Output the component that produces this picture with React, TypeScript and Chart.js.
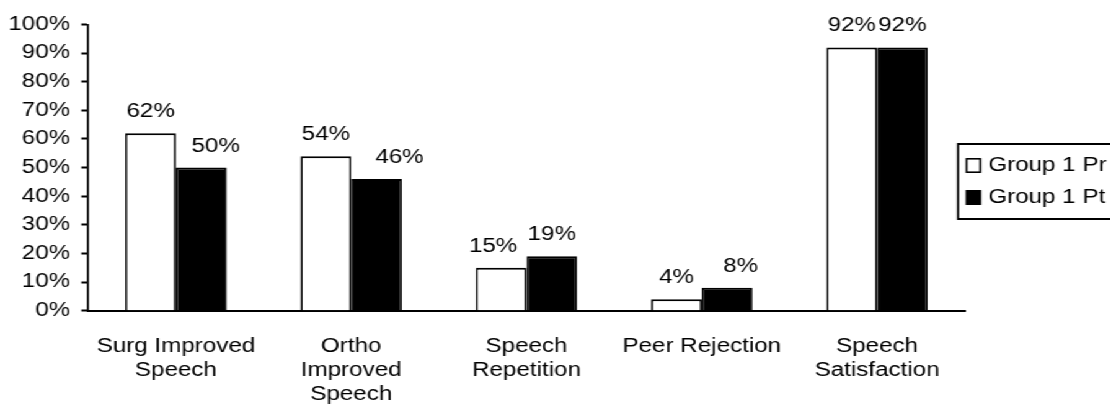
import { useEffect, useRef } from 'react';
import { Chart, registerables } from 'chart.js';

Chart.register(...registerables);

// Category labels (split into display lines)
const categories: string[][] = [
  ['Surg Improved', 'Speech'],
  ['Ortho', 'Improved', 'Speech'],
  ['Speech', 'Repetition'],
  ['Peer Rejection'],
  ['Speech', 'Satisfaction'],
];

const seriesNames = ['Group 1 Pr', 'Group 1 Pt'];

// Percent of respondents
const preValues = [62, 54, 15, 4, 92];
const postValues = [50, 46, 19, 8, 92];

const yTickValues = [0, 10, 20, 30, 40, 50, 60, 70, 80, 90, 100];

// Horizontal nudges for value labels so neighbouring labels don't collide
const preLabelNudge = [0, 0, -6.5, 0, 0];
const postLabelNudge = [11.7, 18.5, 0, 10.9, 0];

// The whole chart is drawn on a narrower canvas and widened horizontally
const STRETCH = 1.24;
const W = 895;
const H = 419;
const FAMILY = '"Liberation Sans", Arial, Helvetica, sans-serif';
const FONT_SIZE = 19.5;

const valueLabels = {
  id: 'valueLabels',
  afterDatasetsDraw(chart: any) {
    const ctx = chart.ctx;
    ctx.save();
    ctx.font = `${FONT_SIZE}px ${FAMILY}`;
    ctx.fillStyle = '#000';
    ctx.textAlign = 'center';
    ctx.textBaseline = 'alphabetic';
    chart.data.datasets.forEach((ds: any, di: number) => {
      const meta = chart.getDatasetMeta(di);
      const nudges = di === 0 ? preLabelNudge : postLabelNudge;
      meta.data.forEach((bar: any, i: number) => {
        ctx.fillText(`${ds.data[i]}%`, bar.x + nudges[i], bar.y - 16);
      });
    });
    ctx.restore();
  },
};

const boxLegend = {
  id: 'boxLegend',
  afterDraw(chart: any) {
    const ctx = chart.ctx;
    const left = 772.6;
    const top = 144;
    const bottom = 219;
    ctx.save();
    ctx.strokeStyle = '#000';
    ctx.lineWidth = 2;
    ctx.beginPath();
    ctx.moveTo(left, top);
    ctx.lineTo(W + 10, top);
    ctx.moveTo(left, bottom);
    ctx.lineTo(W + 10, bottom);
    ctx.stroke();
    ctx.lineWidth = 1.7;
    ctx.beginPath();
    ctx.moveTo(left, top - 1);
    ctx.lineTo(left, bottom + 1);
    ctx.stroke();

    const rowCenters = [165.5, 197.5];
    ctx.font = `${FONT_SIZE}px ${FAMILY}`;
    ctx.textAlign = 'left';
    ctx.textBaseline = 'alphabetic';
    chart.data.datasets.forEach((ds: any, di: number) => {
      const cy = rowCenters[di];
      const mx = 779.5;
      const mw = 11;
      const mh = 13.4;
      ctx.fillStyle = ds.backgroundColor;
      ctx.fillRect(mx, cy - mh / 2, mw, mh);
      ctx.lineWidth = 1.6;
      ctx.strokeStyle = '#000';
      ctx.strokeRect(mx, cy - mh / 2, mw, mh);
      ctx.fillStyle = '#000';
      ctx.fillText(ds.label, 797, cy + 5);
    });
    ctx.restore();
  },
};

export default function App() {
  const canvasRef = useRef<HTMLCanvasElement | null>(null);

  useEffect(() => {
    if (!canvasRef.current) return;
    const barBorder = { top: 2, left: 1.7, right: 1.7, bottom: 0 };
    const chart = new Chart(canvasRef.current, {
      type: 'bar',
      data: {
        labels: categories,
        datasets: [
          {
            label: seriesNames[0],
            data: preValues,
            backgroundColor: '#ffffff',
            borderColor: '#000000',
            borderWidth: barBorder,
            categoryPercentage: 0.578,
            barPercentage: 1,
          },
          {
            label: seriesNames[1],
            data: postValues,
            backgroundColor: '#000000',
            borderColor: '#000000',
            borderWidth: barBorder,
            categoryPercentage: 0.578,
            barPercentage: 1,
          },
        ],
      },
      options: {
        responsive: false,
        animation: false,
        devicePixelRatio: 1,
        layout: { padding: { left: 0, top: 24.5, right: W - 778, bottom: 0 } },
        plugins: {
          legend: { display: false },
          tooltip: { enabled: false },
        },
        scales: {
          x: {
            grid: { display: true, drawOnChartArea: false, drawTicks: false },
            border: { display: true, color: '#000', width: 2 },
            ticks: {
              color: '#000',
              autoSkip: false,
              maxRotation: 0,
              padding: 24.3,
              font: { family: FAMILY, size: FONT_SIZE, lineHeight: 24 / FONT_SIZE },
            },
            afterFit(scale: any) {
              scale.height = H - 310.7;
            },
          },
          y: {
            min: 0,
            max: 100,
            afterBuildTicks(scale: any) {
              scale.ticks = yTickValues.map((v) => ({ value: v }));
            },
            grid: {
              display: true,
              drawOnChartArea: false,
              drawTicks: true,
              tickLength: 5.6,
              tickWidth: 2,
              tickColor: '#000',
            },
            border: { display: true, color: '#000', width: 1.7 },
            ticks: {
              color: '#000',
              padding: 9,
              font: { family: FAMILY, size: FONT_SIZE },
              callback: (v: any) => `${v}%`,
            },
            afterFit(scale: any) {
              scale.width = 71.2;
            },
          },
        },
      },
      plugins: [valueLabels, boxLegend],
    });
    return () => chart.destroy();
  }, []);

  return (
    <div
      style={{
        position: 'fixed',
        left: 0,
        top: 0,
        width: W,
        height: H,
        transform: `scaleX(${STRETCH})`,
        transformOrigin: '0 0',
        background: '#fff',
      }}
    >
      <canvas ref={canvasRef} width={W} height={H} />
    </div>
  );
}
